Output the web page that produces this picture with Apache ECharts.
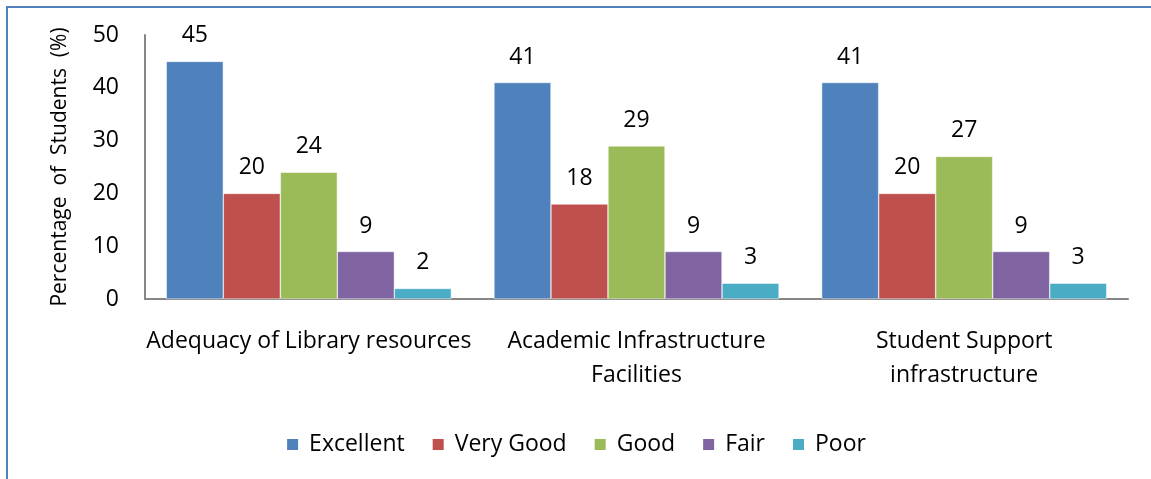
<!DOCTYPE html>
<html>
<head>
<meta charset="utf-8">
<script src="https://cdn.jsdelivr.net/npm/echarts@6/dist/echarts.min.js"></script>
<style>
  html, body { margin: 0; padding: 0; background: #fff; }
  #chart { width: 1151px; height: 479px; }
</style>
</head>
<body>
<div id="chart"></div>
<script>
// Categories and ratings
const categories = ['Adequacy of Library resources', 'Academic Infrastructure\nFacilities', 'Student Support\ninfrastructure'];
const ratings = ['Excellent', 'Very Good', 'Good', 'Fair', 'Poor'];

// Percentage of students per rating (one value per category)
const excellent = [45, 41, 41];
const veryGood = [20, 18, 20];
const good = [24, 29, 27];
const fair = [9, 9, 9];
const poor = [2, 3, 3];

const yTicks = [0, 10, 20, 30, 40, 50];

const colors = ['#4f81bd', '#c0504d', '#9bbb59', '#8064a2', '#4bacc6'];
const font = 'Open Sans';

const chart = echarts.init(document.getElementById('chart'));

const seriesData = [excellent, veryGood, good, fair, poor];

const option = {
  animation: false,
  color: colors,
  textStyle: { fontFamily: font },
  grid: { left: 145, right: 23, top: 35, bottom: 180 },
  legend: {
    data: ratings,
    top: 428,
    left: 'center',
    itemWidth: 13,
    itemHeight: 13,
    itemGap: 26,
    icon: 'rect',
    textStyle: { fontFamily: font, fontSize: 23, color: '#000', padding: [0, 0, 0, 5] }
  },
  xAxis: {
    type: 'category',
    data: categories,
    axisLine: { lineStyle: { color: '#868686', width: 2 } },
    axisTick: { show: false },
    axisLabel: {
      interval: 0,
      margin: 25,
      lineHeight: 34,
      fontFamily: font,
      fontSize: 23,
      color: '#000'
    }
  },
  yAxis: {
    type: 'value',
    min: yTicks[0],
    max: yTicks[yTicks.length - 1],
    interval: 10,
    name: 'Percentage  of  Students  (%)',
    nameLocation: 'middle',
    nameGap: 74,
    nameTextStyle: { fontFamily: font, fontSize: 21, color: '#000' },
    axisLine: { show: true, lineStyle: { color: '#868686', width: 2 } },
    axisTick: { show: false },
    splitLine: { show: false },
    axisLabel: { margin: 26, fontFamily: font, fontSize: 23, color: '#000' }
  },
  graphic: [
    { type: 'line', shape: { x1: 6, y1: 7, x2: 1151, y2: 7 }, style: { stroke: '#4f81bd', lineWidth: 2 } },
    { type: 'line', shape: { x1: 7, y1: 6, x2: 7, y2: 479 }, style: { stroke: '#4f81bd', lineWidth: 2 } }
  ],
  series: ratings.map((name, i) => ({
    name: name,
    type: 'bar',
    data: seriesData[i],
    barGap: '0%',
    barCategoryGap: '13%',
    itemStyle: { borderColor: '#fff', borderWidth: 0.5 },
    label: {
      show: true,
      position: 'top',
      distance: 14,
      fontFamily: font,
      fontSize: 23,
      color: '#000'
    }
  }))
};

chart.setOption(option);
</script>
</body>
</html>
